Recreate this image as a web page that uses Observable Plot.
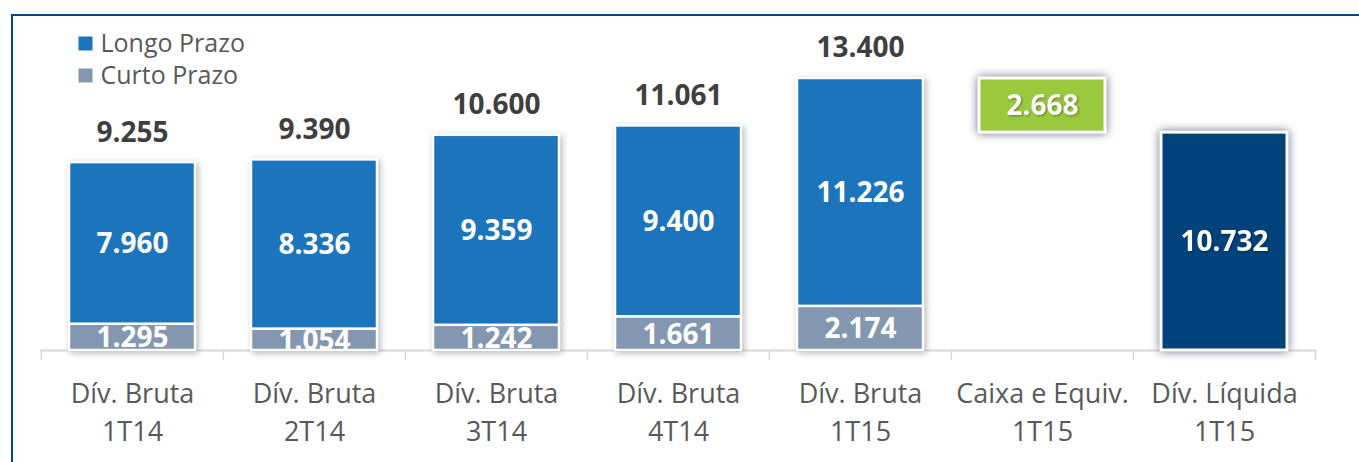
<!DOCTYPE html>
<html>
<head>
<meta charset="utf-8">
<script src="https://cdn.jsdelivr.net/npm/d3@7"></script>
<script src="https://cdn.jsdelivr.net/npm/@observablehq/plot@0.6"></script>
<style>
  html, body { margin: 0; padding: 0; background: #fff; overflow: hidden; }
  #wrap { position: relative; width: 1359px; height: 462px; }
  #border { position: absolute; left: 11px; top: 14px; right: -10px; bottom: -10px;
            border-top: 2px solid #00467F; border-left: 2px solid #00467F; pointer-events: none; }
  svg { display: block; }
</style>
</head>
<body>
<div id="wrap"><div id="chart"></div><div id="border"></div></div>
<script>
// ---- data ----
const categories = ["Dív. Bruta\n1T14", "Dív. Bruta\n2T14", "Dív. Bruta\n3T14", "Dív. Bruta\n4T14", "Dív. Bruta\n1T15", "Caixa e Equiv.\n1T15", "Dív. Líquida\n1T15"];
const grossCategories = categories.slice(0, 5);
const curtoPrazo = [1295, 1054, 1242, 1661, 2174];
const longoPrazo = [7960, 8336, 9359, 9400, 11226];
const totals = [9255, 9390, 10600, 11061, 13400];
const caixaCategory = categories[5];
const caixaValue = 2668;
const liquidaCategory = categories[6];
const liquidaValue = 10732;
const seriesNames = ["Longo Prazo", "Curto Prazo"];
const seriesColors = ["#1C75BC", "#8497B0"];
const caixaColor = "#9BC93D";
const liquidaColor = "#00437A";

const fmt = d3.formatLocale({decimal: ",", thousands: ".", grouping: [3], currency: ["R$", ""]}).format(",d");

// long table for stacking (Curto at bottom)
const stacked = [];
grossCategories.forEach((c, i) => {
  stacked.push({cat: c, series: "Curto Prazo", value: curtoPrazo[i]});
  stacked.push({cat: c, series: "Longo Prazo", value: longoPrazo[i]});
});
const totalRows = grossCategories.map((c, i) => ({cat: c, value: totals[i]}));
const caixaRow = [{cat: caixaCategory, top: totals[4], bottom: totals[4] - caixaValue, value: caixaValue}];
const liquidaRow = [{cat: liquidaCategory, value: liquidaValue}];
const legendRows = seriesNames.map((s, i) => ({name: s, color: seriesColors[i]}));

const W = 1359, H = 462, ML = 40, MR = 43, MT = 0, MB = 112;
const step = (W - ML - MR) / categories.length;
const pad = 0.31;

const valueFont = {fontFamily: "'Open Sans', sans-serif", fontWeight: "bold", fontSize: 28};

const legendMarks = legendRows.flatMap((r, i) => [
  Plot.dot([r], {frameAnchor: "top-left", dx: 45, dy: 43 + i * 32, symbol: "square", r: 7.9, fill: "color"}),
  Plot.text([r], {frameAnchor: "top-left", dx: 60, dy: 43 + i * 32, text: "name", textAnchor: "start", lineAnchor: "middle", fill: "#595959", fontSize: 25})
]);

const plot = Plot.plot({
  width: W, height: H,
  marginLeft: ML, marginRight: MR, marginTop: MT, marginBottom: MB,
  style: {fontFamily: "'Open Sans', sans-serif", background: "#fff", overflow: "visible"},
  x: {domain: categories, padding: pad, paddingOuter: pad / 2, axis: null},
  y: {domain: [0, 17241], axis: null},
  marks: [
    // boundary ticks
    Plot.axisX(categories, {tickSize: 10, tickFormat: () => "", label: null, stroke: "#D9D9D9", strokeWidth: 1.5, dx: -step / 2}),
    Plot.axisX([categories[categories.length - 1]], {tickSize: 10, tickFormat: () => "", label: null, stroke: "#D9D9D9", strokeWidth: 1.5, dx: step / 2}),
    // category labels
    Plot.axisX(categories, {tickSize: 0, tickPadding: 26, fontSize: 27, fill: "#595959", lineHeight: 1.4, tickFormat: d => d, label: null}),
    Plot.ruleY([0], {stroke: "#D9D9D9", strokeWidth: 2}),
    // stacked gross debt bars
    Plot.barY(stacked, Plot.stackY({x: "cat", y: "value", fill: "series", stroke: "#fff", strokeWidth: 2.5})),
    // cash floating box
    Plot.barY(caixaRow, {x: "cat", y1: "bottom", y2: "top", fill: caixaColor, stroke: "#fff", strokeWidth: 3}),
    // net debt
    Plot.barY(liquidaRow, {x: "cat", y: "value", fill: liquidaColor, stroke: "#fff", strokeWidth: 3}),
    // inside labels
    Plot.text(stacked, Plot.stackY({x: "cat", y: "value", text: d => fmt(d.value), fill: "#fff", ...valueFont, dy: 1, clip: "frame"})),
    Plot.text(caixaRow, {x: "cat", y: d => (d.top + d.bottom) / 2, text: d => fmt(d.value), fill: "#fff", ...valueFont}),
    Plot.text(liquidaRow, {x: "cat", y: d => d.value / 2, text: d => fmt(d.value), fill: "#fff", ...valueFont}),
    // totals
    Plot.text(totalRows, {x: "cat", y: "value", text: d => fmt(d.value), fill: "#3F3F3F", ...valueFont, dy: -30}),
    // legend
    ...legendMarks
  ],
  color: {domain: seriesNames, range: seriesColors}
});

// decorative shadows
const sel = d3.select(plot);
const barGroups = sel.selectAll('g[aria-label="bar"]').nodes();
if (barGroups[0]) barGroups[0].style.filter = "drop-shadow(2px 2px 3px rgba(90,100,120,0.45))";
barGroups.slice(1).forEach(g => g.style.filter = "drop-shadow(0px 0px 5px rgba(70,80,105,0.8))");
sel.selectAll('g[aria-label="text"]').nodes().forEach(g => {
  const f = (g.getAttribute("fill") || "").toLowerCase();
  if (f === "#fff" || f === "white" || f === "#ffffff") g.style.filter = "drop-shadow(1px 1px 1px rgba(0,0,0,0.35))";
});

document.getElementById("chart").appendChild(plot);
</script>
</body>
</html>
